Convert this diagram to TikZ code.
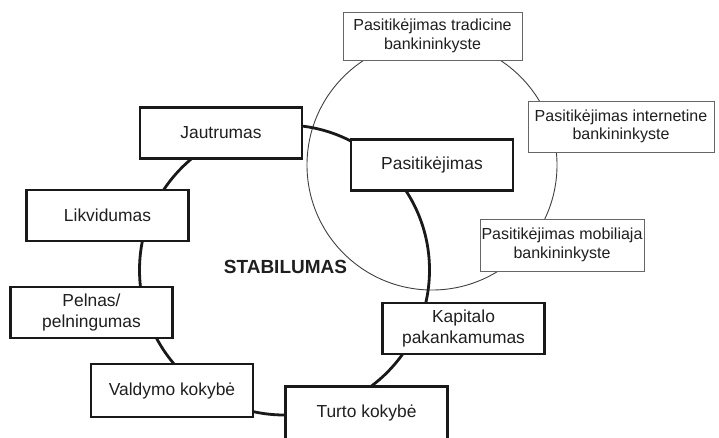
\documentclass[tikz,border=0pt]{standalone}
\usepackage{fontspec}
\setmainfont{Liberation Sans}
\begin{document}
\begin{tikzpicture}[x=1pt,y=-1pt,
  every node/.style={text=black!88, align=center, inner sep=0pt},
  mainbox/.style={draw=black!90, line width=2.6pt, fill=white, minimum width=162pt, minimum height=51pt,
    font=\fontsize{17.4}{20.5}\selectfont},
  sidebox/.style={draw=black!60, line width=0.9pt, fill=white, minimum height=50pt,
    font=\fontsize{16}{18.5}\selectfont},
  ring/.style={draw=black!90, line width=2.8pt},
  thinring/.style={draw=black!75, line width=0.9pt}]
\useasboundingbox (0,0) rectangle (719,437);

% centre of the stability ring and its label
\coordinate (ringc) at (284.5,270);
\node[font=\fontsize{19}{22}\selectfont\bfseries] (stab) at (285.5,267) {STABILUMAS};

% trust sub-circle around the central trust box
\coordinate (pasc) at (432,165);
\draw[thinring] (pasc) circle (125pt);

% main ring connecting all stability factors
\draw[ring] (ringc) circle (145pt);

% stability factors
\node[mainbox] (jaut) at (221,133) {Jautrumas};
\node[mainbox] (pas) at (pasc) {Pasitikėjimas};
\node[mainbox] (likv) at (107.5,215.5) {Likvidumas};
\node[mainbox] (peln) at (91.5,312.5) {Pelnas/\\pelningumas};
\node[mainbox, minimum height=53pt] (vald) at (172,390.5) {Valdymo kokybė};
\node[mainbox, minimum height=53pt] (turto) at (366.5,413) {Turto kokybė};
\node[mainbox] (kap) at (463.5,328.5) {Kapitalo\\pakankamumas};

% kinds of trust
\node[sidebox, minimum width=179pt, minimum height=48pt] (trad) at (432.5,36) {Pasitikėjimas tradicine\\bankininkyste};
\node[sidebox, minimum width=186pt, minimum height=51pt] (inet) at (621,126.5) {Pasitikėjimas internetine\\bankininkyste};
\node[sidebox, minimum width=164pt, minimum height=52pt] (mob) at (562,245) {Pasitikėjimas mobiliaja\\bankininkyste};
\end{tikzpicture}
\end{document}
